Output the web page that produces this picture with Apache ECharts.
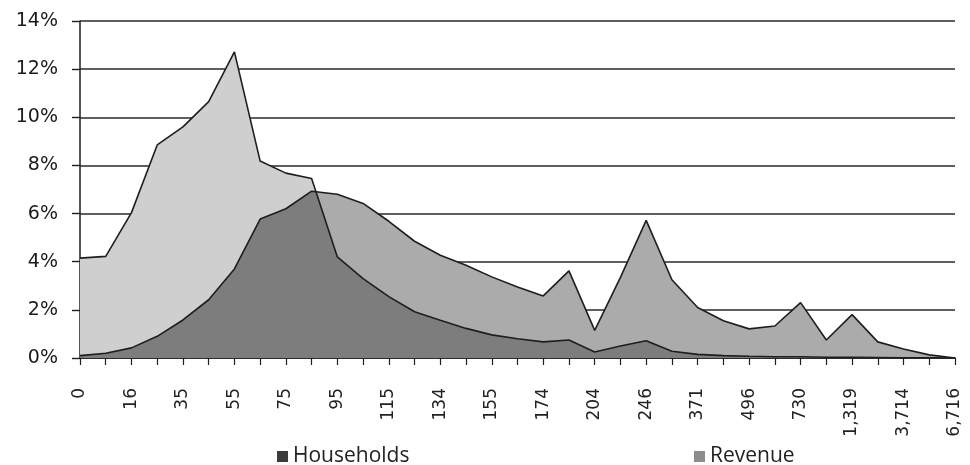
<!DOCTYPE html>
<html>
<head>
<meta charset="utf-8">
<script src="https://cdn.jsdelivr.net/npm/echarts@6/dist/echarts.min.js"></script>
<style>
html,body{margin:0;padding:0;background:#fff;}
#chart{width:970px;height:465px;}
</style>
</head>
<body>
<div id="chart"></div>
<script>
// Category bins (only every other one is labelled in the picture; odd ones are estimates)
const categories = ['0','6','16','25','35','45','55','65','75','85','95','105','115','125','134','144','155','165','174','188','204','224','246','300','371','430','496','600','730','980','1,319','2,200','3,714','5,000','6,716'];
// Share of households per bin (%)
const households = [4.15,4.22,6.04,8.85,9.6,10.65,12.72,8.18,7.68,7.46,4.2,3.3,2.55,1.92,1.57,1.23,0.96,0.8,0.67,0.75,0.25,0.5,0.72,0.28,0.15,0.1,0.07,0.05,0.05,0.03,0.03,0.02,0.01,0.01,0];
// Share of revenue per bin (%)
const revenue = [0.1,0.2,0.42,0.9,1.58,2.42,3.7,5.77,6.2,6.93,6.8,6.42,5.68,4.85,4.27,3.85,3.37,2.95,2.58,3.62,1.15,3.35,5.72,3.25,2.1,1.55,1.21,1.33,2.3,0.75,1.8,0.67,0.37,0.13,0];
const yTicks = [0,2,4,6,8,10,12,14];

const hhPts = households.map((v,i)=>[i,v]);
const revPts = revenue.map((v,i)=>[i,v]);
// overlap region = min of the two curves, with exact crossing points
const overlap = [];
for (let i=0;i<households.length;i++){
  overlap.push([i, Math.min(households[i], revenue[i])]);
  if (i < households.length-1){
    const d0 = households[i]-revenue[i], d1 = households[i+1]-revenue[i+1];
    if (d0*d1 < 0){
      const t = d0/(d0-d1);
      overlap.push([i+t, households[i] + t*(households[i+1]-households[i])]);
    }
  }
}

const chart = echarts.init(document.getElementById('chart'), null, {renderer:'canvas'});
const dark = '#1e1e1e';
const areaSeries = (name, data, color, z) => ({
  name, type:'line', data, z, showSymbol:false, silent:true,
  lineStyle:{width:0, opacity:0},
  areaStyle:{color, opacity:1},
  animation:false
});
const lineSeries = (name, data) => ({
  name, type:'line', data, z:5, showSymbol:false, silent:true,
  lineStyle:{color:dark, width:1.6},
  itemStyle:{color:dark},
  animation:false
});
chart.setOption({
  animation:false,
  backgroundColor:'#ffffff',
  grid:{left:80, right:15, top:21, bottom:107, containLabel:false},
  xAxis:{
    type:'value', min:0, max:categories.length-1, interval:1,
    axisLine:{show:true, lineStyle:{color:dark, width:1.5}},
    axisTick:{show:true, length:7, lineStyle:{color:dark, width:1.2}},
    splitLine:{show:false},
    axisLabel:{
      rotate:90, margin:30, color:'#222', fontSize:17, fontFamily:'DejaVu Sans',
      showMinLabel:true, showMaxLabel:true, hideOverlap:false,
      formatter:(v)=> (Number.isInteger(v) && v%2===0) ? categories[v] : ''
    }
  },
  yAxis:{
    type:'value', min:yTicks[0], max:yTicks[yTicks.length-1], interval:2,
    axisLine:{show:true, lineStyle:{color:dark, width:1.5}},
    axisTick:{show:true, length:8, lineStyle:{color:dark, width:1.4}},
    splitLine:{show:true, lineStyle:{color:'#2a2a2a', width:1.5}},
    axisLabel:{margin:22, color:'#1a1a1a', fontSize:19, fontFamily:'DejaVu Sans', formatter:'{value}%'}
  },
  legend:[
    {data:[{name:'Households', itemStyle:{color:'#3c3c3c', borderWidth:0}}], left:272, top:441, icon:'rect', itemWidth:11, itemHeight:11,
     textStyle:{fontSize:21, fontFamily:'Open Sans', color:'#222'}, selectedMode:false},
    {data:[{name:'Revenue', itemStyle:{color:'#8c8c8c', borderWidth:0}}], left:689, top:441, icon:'rect', itemWidth:11, itemHeight:11,
     textStyle:{fontSize:21, fontFamily:'Open Sans', color:'#222'}, selectedMode:false}
  ],
  series:[
    areaSeries('hhArea', hhPts, '#cfcfcf', 1),
    areaSeries('revArea', revPts, '#ababab', 2),
    areaSeries('overlapArea', overlap, '#7d7d7d', 3),
    lineSeries('Households', hhPts),
    lineSeries('Revenue', revPts)
  ]
});
</script>
</body>
</html>
